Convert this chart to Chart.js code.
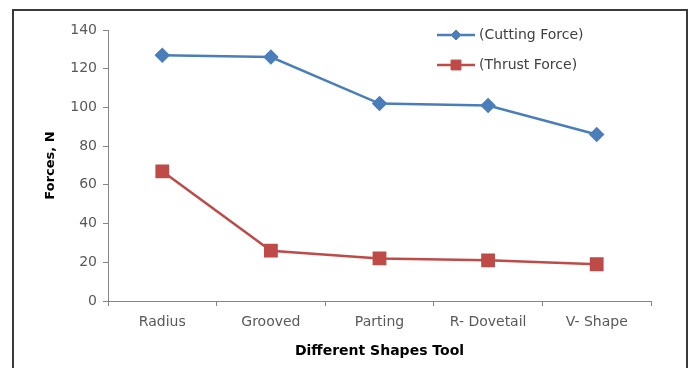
<!DOCTYPE html>
<html>
<head>
<meta charset="utf-8">
<script src="https://cdn.jsdelivr.net/npm/chart.js@4.4.0/dist/chart.umd.min.js"></script>
<style>
  html, body { margin: 0; padding: 0; background: #fff; }
  #wrap { width: 692px; height: 368px; position: relative; }
</style>
</head>
<body>
<div id="wrap"><canvas id="c" width="692" height="368"></canvas></div>
<script>
const shapes = ["Radius", "Grooved", "Parting", "R- Dovetail", "V- Shape"];
const cuttingForce = [127, 126, 102, 101, 86];
const thrustForce = [67, 26, 22, 21, 19];
const yTicks = [0, 20, 40, 60, 80, 100, 120, 140];

const BLUE = "#4a7ebb";
const RED = "#be4b48";
const FONT = "'DejaVu Sans', sans-serif";

// frame round the whole picture
const framePlugin = {
  id: "frame",
  beforeDraw(chart) {
    const ctx = chart.ctx;
    ctx.save();
    ctx.fillStyle = "#fff";
    ctx.fillRect(0, 0, chart.width, chart.height);
    ctx.strokeStyle = "#3a3a3a";
    ctx.lineWidth = 2;
    ctx.strokeRect(13, 10, 674, 380);
    ctx.restore();
  }
};

// legend sits inside the plot, top right
const insideLegend = {
  id: "insideLegend",
  afterDraw(chart) {
    const ctx = chart.ctx;
    const x0 = chart.chartArea.right - 214;
    chart.data.datasets.forEach((ds, i) => {
      const y = 35 + i * 30;
      ctx.save();
      ctx.strokeStyle = ds.borderColor;
      ctx.lineWidth = 2.5;
      ctx.beginPath();
      ctx.moveTo(x0, y);
      ctx.lineTo(x0 + 38, y);
      ctx.stroke();
      ctx.fillStyle = ds.backgroundColor;
      ctx.lineWidth = 1;
      Chart.helpers.drawPoint(ctx, {
        pointStyle: ds.pointStyle,
        radius: ds.pointRadius - 1,
        borderWidth: 1
      }, x0 + 19, y);
      ctx.fillStyle = "#404040";
      ctx.font = "14px " + FONT;
      ctx.textBaseline = "middle";
      ctx.fillText(ds.label, x0 + 42, y);
      ctx.restore();
    });
  }
};

new Chart(document.getElementById("c"), {
  type: "line",
  data: {
    labels: shapes,
    datasets: [
      {
        label: "(Cutting Force)",
        data: cuttingForce,
        borderColor: BLUE,
        backgroundColor: BLUE,
        pointStyle: "rectRot",
        pointRadius: 6,
        borderWidth: 2.5,
        tension: 0
      },
      {
        label: "(Thrust Force)",
        data: thrustForce,
        borderColor: RED,
        backgroundColor: RED,
        pointStyle: "rect",
        pointRadius: 8,
        borderWidth: 2.5,
        tension: 0
      }
    ]
  },
  options: {
    responsive: false,
    animation: false,
    layout: { padding: { left: 0, right: 41, top: 30, bottom: 0 } },
    plugins: {
      legend: { display: false },
      tooltip: { enabled: false }
    },
    scales: {
      x: {
        offset: true,
        afterFit: s => { s.height = 67; },
        grid: {
          offset: true,
          drawOnChartArea: false,
          drawTicks: true,
          tickLength: 5,
          color: "#868686"
        },
        border: { color: "#868686", width: 1 },
        ticks: {
          color: "#595959",
          font: { family: FONT, size: 14 },
          padding: 8,
          maxRotation: 0
        },
        title: {
          display: true,
          text: "Different Shapes Tool",
          color: "#000",
          font: { family: FONT, size: 14, weight: "bold" },
          padding: { top: 0, bottom: 8 }
        }
      },
      y: {
        min: 0,
        max: 140,
        afterFit: s => { s.width = 108; },
        afterBuildTicks: s => { s.ticks = yTicks.map(v => ({ value: v })); },
        grid: {
          drawOnChartArea: false,
          drawTicks: true,
          tickLength: 5,
          color: "#868686"
        },
        border: { color: "#868686", width: 1 },
        ticks: {
          color: "#595959",
          font: { family: FONT, size: 14 },
          padding: 6
        },
        title: {
          display: true,
          text: "Forces, N",
          color: "#000",
          font: { family: FONT, size: 13, weight: "bold" },
          padding: { top: 43, bottom: 0 }
        }
      }
    }
  },
  plugins: [framePlugin, insideLegend]
});
</script>
</body>
</html>
